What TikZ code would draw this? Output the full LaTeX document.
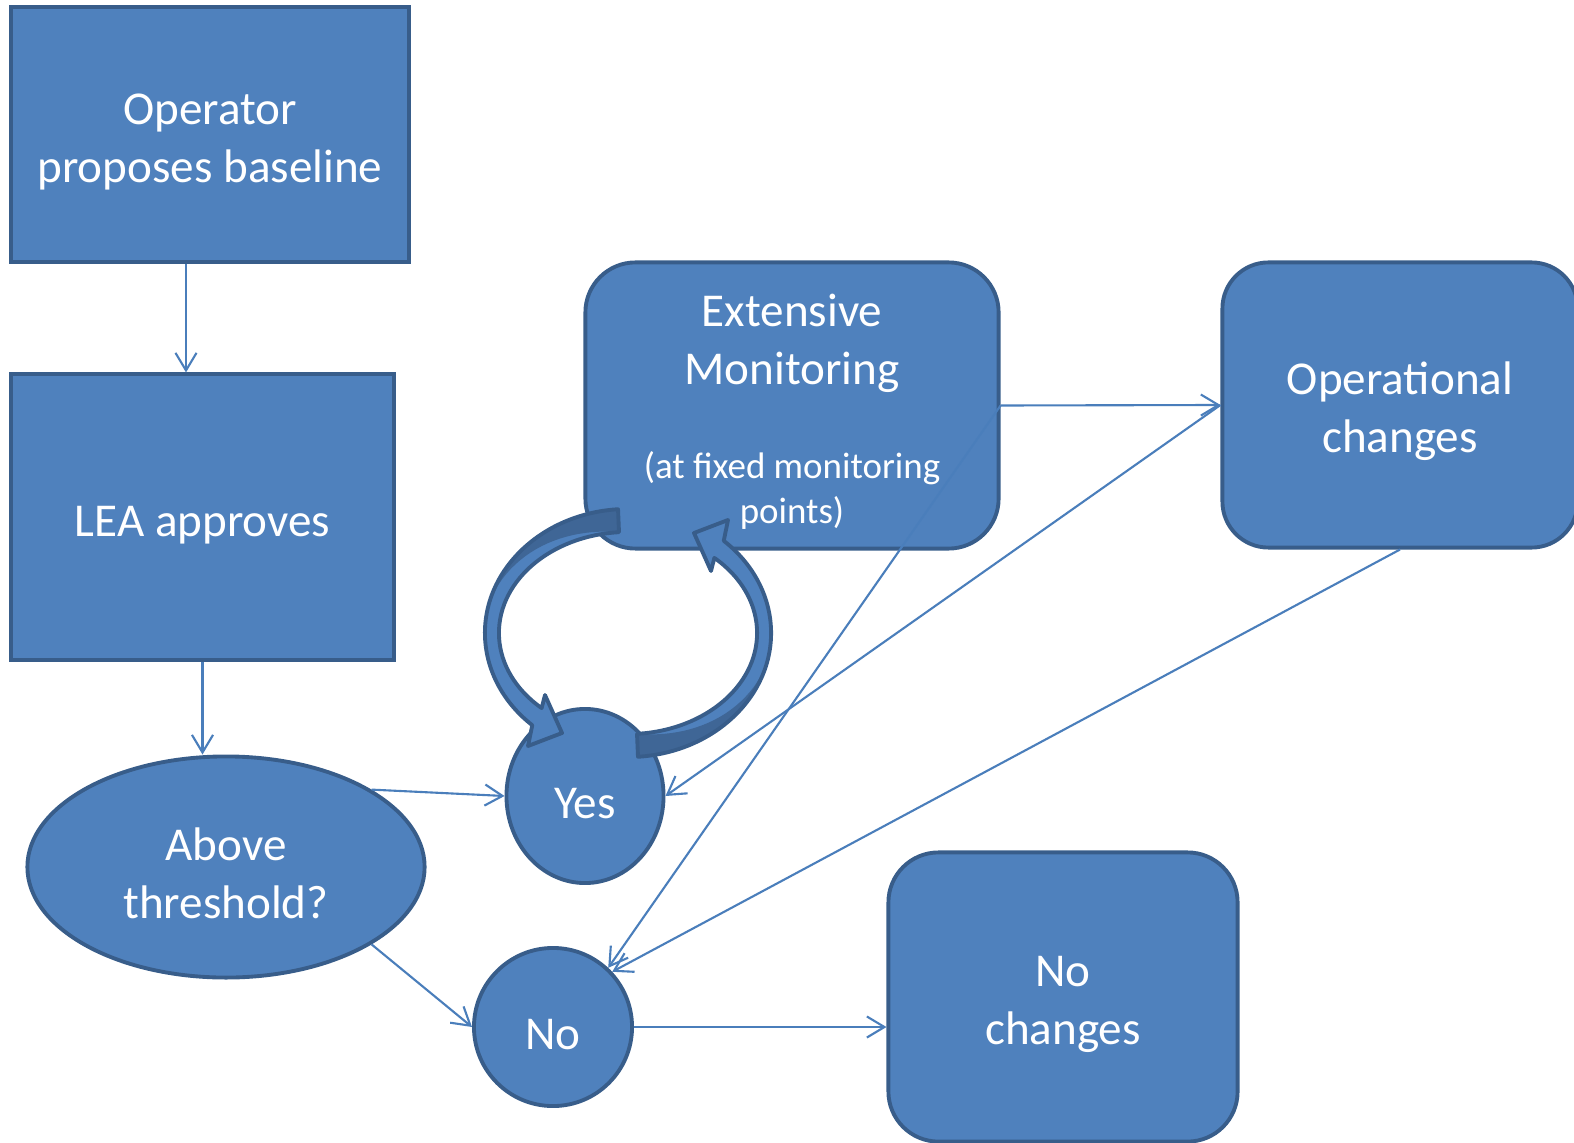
\documentclass[tikz,border=0pt]{standalone}
\usepackage{fontspec}
\setmainfont{Carlito}
\usetikzlibrary{shapes.geometric,arrows.meta}
\definecolor{boxblue}{HTML}{4F81BD}
\definecolor{boxline}{HTML}{385D8A}
\definecolor{linkblue}{HTML}{4A7EBB}
\definecolor{loopdark}{HTML}{3F6696}
\newcommand\txtdrop{\rule{0pt}{13pt}}
\tikzstyle{box}=[draw=boxline,fill=boxblue,line width=1.1pt,text=white,
  align=center,inner sep=0pt]
\tikzstyle{rbox}=[box,rounded corners=0.5cm]
\tikzstyle{oval}=[box,ellipse]
\tikzstyle{link}=[draw=linkblue,line width=0.6pt,
  -{Straight Barb[length=5pt,width=6pt]}]
\tikzstyle{loopline}=[draw=boxline,line width=1.1pt,line join=round]

\begin{document}
\begin{tikzpicture}[x=0.01cm, y=0.01cm, font=\fontsize{13.4}{16.5}\selectfont]
  \useasboundingbox (0,0) rectangle (1574,1142);

  % left column
  \node[box, minimum width=3.97cm, minimum height=2.54cm] (op) at (210,1007.5)
    {\txtdrop Operator\\proposes baseline};
  \node[box, minimum width=3.82cm, minimum height=2.85cm] (lea) at (202.5,625)
    {\txtdrop LEA approves};
  \node[oval, minimum width=3.97cm, minimum height=2.21cm] (thr) at (226,275)
    {\txtdrop Above\\threshold?};

  % decisions
  \node[oval, minimum width=1.57cm, minimum height=1.74cm] (yes) at (585,346)
    {\txtdrop Yes};
  \node[oval, minimum width=1.58cm, minimum height=1.58cm] (no) at (553,115)
    {\txtdrop No};

  % outcomes
  \node[rbox, minimum width=4.13cm, minimum height=2.86cm] (mon) at (792,736.5)
    {\rule{0pt}{12.8pt}Extensive\\Monitoring\\[10pt]
     \fontsize{10.5}{12.8}\selectfont (at fixed monitoring\\[-3.7pt]
     \fontsize{10.5}{12.8}\selectfont points)};
  \node[rbox, rounded corners=0.46cm, minimum width=3.55cm, minimum height=2.85cm]
    (opc) at (1400,737) {\txtdrop Operational\\changes};
  \node[rbox, minimum width=3.49cm, minimum height=2.89cm] (noc) at (1063,145)
    {\txtdrop No\\changes};

  % monitoring loop
  \begin{scope}[shift={(628,509)}]
    \def\leftband{(94:1.29cm and 1.01cm) -- (94:1.43cm and 1.24cm)
      arc[start angle=94, end angle=228, x radius=1.43cm, y radius=1.24cm]
      -- (-100,-113) -- (-66,-100) -- (-83,-62) -- (228:1.29cm and 1.01cm)
      arc[start angle=228, end angle=94, x radius=1.29cm, y radius=1.01cm] -- cycle}
    \def\rightband{(274:1.29cm and 1.01cm) -- (274:1.43cm and 1.24cm)
      arc[start angle=274, end angle=408, x radius=1.43cm, y radius=1.24cm]
      -- (100,113) -- (66,100) -- (83,62) -- (48:1.29cm and 1.01cm)
      arc[start angle=408, end angle=274, x radius=1.29cm, y radius=1.01cm] -- cycle}
    \fill[boxblue] \leftband;
    \fill[boxblue] \rightband;
    \fill[loopdark] (94:1.43cm and 1.24cm)
      arc[start angle=94, end angle=165, x radius=1.43cm, y radius=1.24cm]
      -- plot[domain=165:94, samples=25]
        ({(129+14*(\x-94)/71)*cos(\x)}, {(101+23*(\x-94)/71)*sin(\x)}) -- cycle;
    \fill[loopdark] (274:1.43cm and 1.24cm)
      arc[start angle=274, end angle=345, x radius=1.43cm, y radius=1.24cm]
      -- plot[domain=345:274, samples=25]
        ({(129+14*(\x-274)/71)*cos(\x)}, {(101+23*(\x-274)/71)*sin(\x)}) -- cycle;
    \draw[loopline] \leftband;
    \draw[loopline] \rightband;
  \end{scope}

  % connectors
  \draw[link] ([xshift=-0.24cm]op.south) -- ([xshift=-0.24cm]op.south |- lea.north);
  \draw[link] (lea.south) -- (lea.south |- thr.north);
  \draw[link] (thr.28) -- (yes.west);
  \draw[link] (thr.-28) -- (no.west);
  \draw[link] (no.east) -- (no.east -| noc.west);
  \draw[link] (mon.east) -- (opc.west);
  \draw[link] (mon.east) -- (no.47);
  \draw[link] (opc.west) -- (yes.east);
  \draw[link] (opc.south) -- (no.43);
\end{tikzpicture}
\end{document}
